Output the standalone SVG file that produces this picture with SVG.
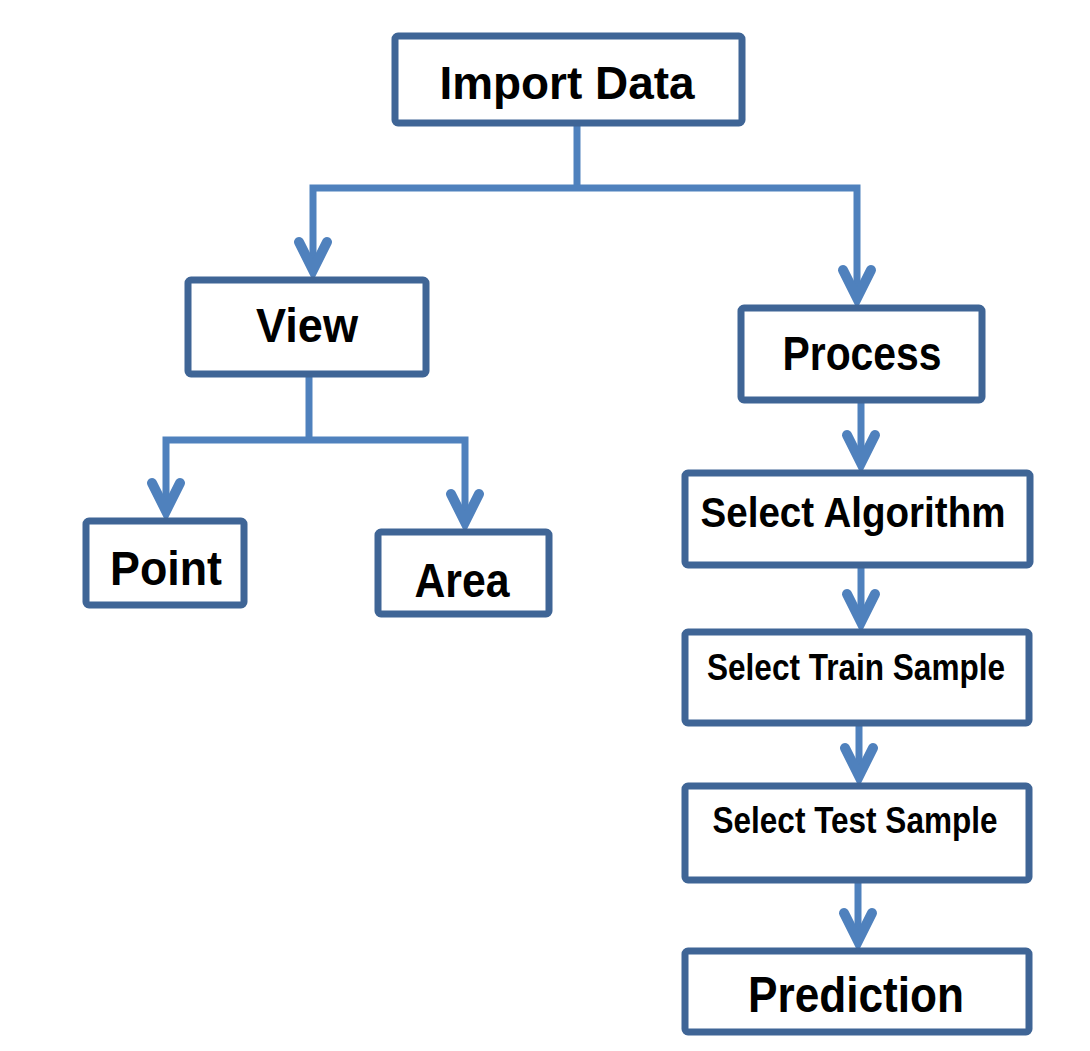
<svg xmlns="http://www.w3.org/2000/svg" width="1090" height="1051" viewBox="0 0 1090 1051">
  <style>
    .box { fill: #ffffff; stroke: #3f6596; stroke-width: 7; }
    .lbl { font-family: "Liberation Sans", Arial, sans-serif; font-weight: bold; fill: #000000; text-anchor: middle; }
    .conn { fill: none; stroke: #4f81bd; stroke-width: 7; stroke-linejoin: miter; }
  </style>
  <defs>
    <marker id="arrow" markerUnits="userSpaceOnUse" markerWidth="80" markerHeight="80" refX="0" refY="0" orient="auto" overflow="visible">
      <path d="M-31,-14 L-3,0 L-31,14" fill="none" stroke="#4f81bd" stroke-width="10" stroke-linejoin="miter" stroke-miterlimit="10" stroke-linecap="round"/>
    </marker>
  </defs>
  <rect width="1090" height="1051" fill="#ffffff"/>

  <g id="connectors">
    <path class="conn" d="M577,126 V188"/>
    <path class="conn" d="M577,188 H313 V273" marker-end="url(#arrow)"/>
    <path class="conn" d="M577,188 H857 V301" marker-end="url(#arrow)"/>
    <path class="conn" d="M309,377 V440"/>
    <path class="conn" d="M309,440 H166 V514" marker-end="url(#arrow)"/>
    <path class="conn" d="M309,440 H465 V525" marker-end="url(#arrow)"/>
    <path class="conn" d="M861,403 V466" marker-end="url(#arrow)"/>
    <path class="conn" d="M861,568 V625" marker-end="url(#arrow)"/>
    <path class="conn" d="M859,726 V779" marker-end="url(#arrow)"/>
    <path class="conn" d="M858,883 V944" marker-end="url(#arrow)"/>
  </g>

  <g id="node-import">
    <rect class="box" x="395" y="36" width="347" height="87" rx="3"/>
    <text class="lbl" x="567" y="99" font-size="46" textLength="255" lengthAdjust="spacingAndGlyphs">Import Data</text>
  </g>
  <g id="node-view">
    <rect class="box" x="188" y="280" width="238" height="94" rx="3"/>
    <text class="lbl" x="307" y="342" font-size="49" textLength="102" lengthAdjust="spacingAndGlyphs">View</text>
  </g>
  <g id="node-point">
    <rect class="box" x="86" y="521" width="158" height="84" rx="3"/>
    <text class="lbl" x="166" y="585" font-size="49" textLength="112" lengthAdjust="spacingAndGlyphs">Point</text>
  </g>
  <g id="node-area">
    <rect class="box" x="378" y="532" width="171" height="82" rx="3"/>
    <text class="lbl" x="462" y="597" font-size="48" textLength="95" lengthAdjust="spacingAndGlyphs">Area</text>
  </g>
  <g id="node-process">
    <rect class="box" x="741" y="308" width="241" height="92" rx="3"/>
    <text class="lbl" x="862" y="370" font-size="48" textLength="159" lengthAdjust="spacingAndGlyphs">Process</text>
  </g>
  <g id="node-select-algorithm">
    <rect class="box" x="685" y="473" width="345" height="92" rx="3"/>
    <text class="lbl" x="853" y="527" font-size="42" textLength="305" lengthAdjust="spacingAndGlyphs">Select Algorithm</text>
  </g>
  <g id="node-select-train">
    <rect class="box" x="685" y="632" width="344" height="91" rx="3"/>
    <text class="lbl" x="856" y="680" font-size="37" textLength="298" lengthAdjust="spacingAndGlyphs">Select Train Sample</text>
  </g>
  <g id="node-select-test">
    <rect class="box" x="685" y="786" width="344" height="94" rx="3"/>
    <text class="lbl" x="855" y="833" font-size="37" textLength="285" lengthAdjust="spacingAndGlyphs">Select Test Sample</text>
  </g>
  <g id="node-prediction">
    <rect class="box" x="685" y="951" width="344" height="81" rx="3"/>
    <text class="lbl" x="856" y="1012" font-size="50" textLength="216" lengthAdjust="spacingAndGlyphs">Prediction</text>
  </g>
</svg>
